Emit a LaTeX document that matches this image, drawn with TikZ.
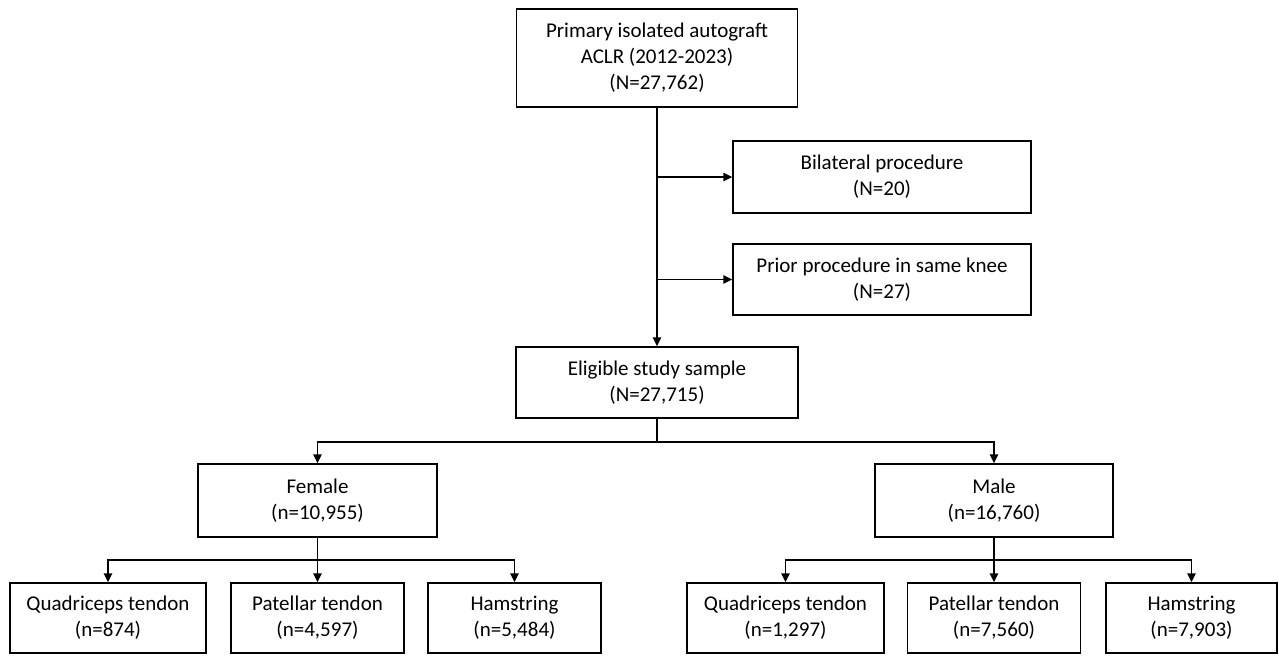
\documentclass[tikz,border=0pt]{standalone}
\usepackage{fontspec}
\setmainfont{Carlito}
\usetikzlibrary{arrows.meta}

\begin{document}
\begin{tikzpicture}[x=0.5pt, y=-0.5pt,
    box/.style={draw, line width=0.75pt, align=center, inner sep=0pt,
      font=\fontsize{10.5}{13}\selectfont},
    arr/.style={line width=0.75pt, -{Triangle[length=4.5pt, width=4.2pt]}},
    ln/.style={line width=0.75pt}]

  \useasboundingbox (0,0) rectangle (1279,655);

  % top of the flow
  \node[box, minimum width=140.5pt, minimum height=49pt] (total) at (657,58)
    {Primary isolated autograft\\ACLR (2012-2023)\\(N=27,762)};
  \node[box, minimum width=149pt, minimum height=36pt] (bilat) at (882,177)
    {Bilateral procedure\\(N=20)};
  \node[box, minimum width=149pt, minimum height=35.5pt] (prior) at (882,279.5)
    {Prior procedure in same knee\\(N=27)};
  \node[box, minimum width=141pt, minimum height=35.5pt] (elig) at (657,382.5)
    {Eligible study sample\\(N=27,715)};

  % sex
  \node[box, minimum width=119.5pt, minimum height=36.5pt] (fem) at (317.5,500.5)
    {Female\\(n=10,955)};
  \node[box, minimum width=119pt, minimum height=36.5pt] (mal) at (994,500.5)
    {Male\\(n=16,760)};

  % graft types
  \node[box, minimum width=98pt, minimum height=35pt] (fquad) at (108,618)
    {Quadriceps tendon\\(n=874)};
  \node[box, minimum width=86.5pt, minimum height=35pt] (fpat) at (317.5,618)
    {Patellar tendon\\(n=4,597)};
  \node[box, minimum width=86.5pt, minimum height=35pt] (fham) at (514.5,618)
    {Hamstring\\(n=5,484)};
  \node[box, minimum width=98.5pt, minimum height=35pt] (mquad) at (785.5,618)
    {Quadriceps tendon\\(n=1,297)};
  \node[box, minimum width=86.5pt, minimum height=35pt] (mpat) at (994,618)
    {Patellar tendon\\(n=7,560)};
  \node[box, minimum width=85.5pt, minimum height=35pt] (mham) at (1191.5,618)
    {Hamstring\\(n=7,903)};

  \coordinate (jsex) at (657,442);
  \coordinate (jfem) at (317.5,560);
  \coordinate (jmal) at (994,560);

  \draw[arr] (total.south) -- (elig.north);
  \draw[arr] (total.south |- bilat.west) -- (bilat.west);
  \draw[arr] (total.south |- prior.west) -- (prior.west);

  \draw[ln] (elig.south) -- (jsex);
  \draw[arr] (jsex) -| (fem.north);
  \draw[arr] (jsex) -| (mal.north);

  \draw[arr] (fem.south) -- (fpat.north);
  \draw[arr] (jfem) -| (fquad.north);
  \draw[arr] (jfem) -| (fham.north);
  \draw[arr] (mal.south) -- (mpat.north);
  \draw[arr] (jmal) -| (mquad.north);
  \draw[arr] (jmal) -| (mham.north);
\end{tikzpicture}
\end{document}
